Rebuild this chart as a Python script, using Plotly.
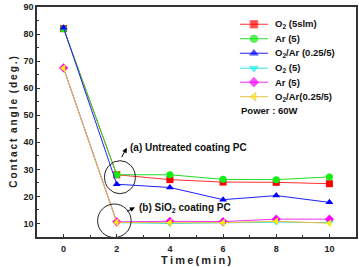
import plotly.graph_objects as go

# ---- data ----
time = [0, 2, 4, 6, 8, 10]
o2_5slm_untreated = [82.0, 28.0, 26.2, 25.3, 25.2, 24.7]
ar_5_untreated = [82.0, 28.0, 28.0, 26.3, 26.2, 27.2]
o2ar_untreated = [82.3, 24.5, 23.3, 18.8, 20.3, 17.8]
o2_5_coated = [67.3, 10.3, 10.0, 10.2, 10.5, 10.3]
ar_5_coated = [67.5, 10.6, 10.8, 10.7, 11.6, 11.6]
o2ar_coated = [67.4, 10.4, 10.3, 10.3, 10.8, 10.1]

series_names = ["O<sub>2</sub> (5slm)", "Ar (5)", "O<sub>2</sub>/Ar (0.25/5)",
                "O<sub>2</sub> (5)", "Ar (5)", "O<sub>2</sub>/Ar(0.25/5)"]
series_values = [o2_5slm_untreated, ar_5_untreated, o2ar_untreated,
                 o2_5_coated, ar_5_coated, o2ar_coated]
colors = ["#ff0000", "#11ee11", "#0000ff", "#00ffff", "#ff00ff", "#ffee00"]
line_colors = ["#ff3030", "#22dd22", "#2020ff", "#30e0e0", "#ee30ee", "#e8c040"]
symbols = ["square", "circle", "triangle-up", "triangle-down", "diamond", "triangle-left"]

FONT = "Liberation Sans, Arial, sans-serif"
TS = "\u2009"  # thin space for letter spacing
WS = "\u00a0\u00a0"  # word gap


def spaced(s):
    return WS.join(TS.join(list(w)) for w in s.split(" "))


fig = go.Figure()

for name, vals, c, lc, s in zip(series_names, series_values, colors, line_colors, symbols):
    fig.add_trace(go.Scatter(
        x=time, y=vals, mode="lines+markers", name=name, showlegend=False,
        line=dict(color=lc, width=1),
        marker=dict(symbol=s, size=7, color=c),
        cliponaxis=False,
    ))

# ---- manual legend (overlay axis in fractional plot coordinates) ----
leg_x0, leg_x1, leg_xm, leg_tx = 0.636, 0.724, 0.680, 0.739
leg_ys = [0.925, 0.862, 0.799, 0.734, 0.673, 0.610]
for name, c, lc, s, yy in zip(series_names, colors, line_colors, symbols, leg_ys):
    fig.add_trace(go.Scatter(
        x=[leg_x0, leg_xm, leg_x1], y=[yy, yy, yy], xaxis="x2", yaxis="y2",
        mode="lines+markers", showlegend=False, hoverinfo="skip",
        line=dict(color=lc, width=1),
        marker=dict(symbol=s, size=[0, 7.5, 0], color=c),
    ))
    fig.add_annotation(x=leg_tx, y=yy, xref="x2", yref="y2", text=name,
                       showarrow=False, xanchor="left", yanchor="middle",
                       font=dict(family=FONT, size=9.5, color="#111", weight="bold"))
fig.add_annotation(x=0.633, y=0.551, xref="x2", yref="y2", text="Power : 60W",
                   showarrow=False, xanchor="left", yanchor="middle",
                   font=dict(family=FONT, size=9.5, color="#111", weight="bold"))

# ---- annotations ----
fig.add_annotation(x=2.42, y=38.1, text="(a) Untreated coating PC", showarrow=False,
                   xanchor="left", yanchor="middle",
                   font=dict(family=FONT, size=10, color="#111", weight="bold"))
fig.add_annotation(x=2.75, y=15.8, text="(b) SiO<sub>2</sub> coating PC", showarrow=False,
                   xanchor="left", yanchor="middle",
                   font=dict(family=FONT, size=10, color="#111", weight="bold"))
# arrows
fig.add_annotation(x=2.38, y=38.0, ax=-6, ay=11, text="", showarrow=True,
                   arrowhead=2, arrowsize=1, arrowwidth=1, arrowcolor="black")
fig.add_annotation(x=2.68, y=16.0, ax=-9, ay=5, text="", showarrow=True,
                   arrowhead=2, arrowsize=1, arrowwidth=1, arrowcolor="black")
# circles
fig.add_shape(type="circle", xref="x", yref="y", x0=2.12 - 0.58, x1=2.12 + 0.58,
              y0=27.1 - 6.1, y1=27.1 + 6.1, line=dict(color="#222", width=1))
fig.add_shape(type="circle", xref="x", yref="y", x0=1.91 - 0.63, x1=1.91 + 0.63,
              y0=11.0 - 6.2, y1=11.0 + 6.2, line=dict(color="#222", width=1))

# x-axis title as annotation (placed below the tick labels)
fig.add_annotation(x=0.5, y=-0.1, xref="paper", yref="paper", text=spaced("Time(min)"),
                   showarrow=False, xanchor="center", yanchor="middle",
                   font=dict(family=FONT, size=11, color="#222", weight="bold"))

axis_common = dict(showline=True, linecolor="#333", linewidth=1.5, mirror=True,
                   ticks="inside", ticklen=3, tickcolor="#333", showgrid=False,
                   zeroline=False, automargin=False,
                   tickfont=dict(family=FONT, size=9, color="#222", weight="bold"))

fig.update_layout(
    width=359, height=267, margin=dict(l=37, r=3, t=7, b=30),
    paper_bgcolor="white", plot_bgcolor="white",
    xaxis=dict(range=[-1, 11], tickvals=[0, 2, 4, 6, 8, 10], ticklabelstandoff=2,
               minor=dict(ticks="inside", ticklen=2, dtick=1, tickcolor="#333"),
               **axis_common),
    yaxis=dict(range=[5, 90], tickvals=[10, 20, 30, 40, 50, 60, 70, 80, 90],
               title=dict(text=spaced("Contact angle (deg.)"), standoff=4,
                          font=dict(family=FONT, size=10, color="#222", weight="bold")),
               minor=dict(ticks="inside", ticklen=2, dtick=5, tickcolor="#333"),
               **axis_common),
    xaxis2=dict(range=[0, 1], overlaying="x", visible=False, domain=[0, 1]),
    yaxis2=dict(range=[0, 1], overlaying="y", visible=False),
    showlegend=False,
)

fig.write_html("out.html")
